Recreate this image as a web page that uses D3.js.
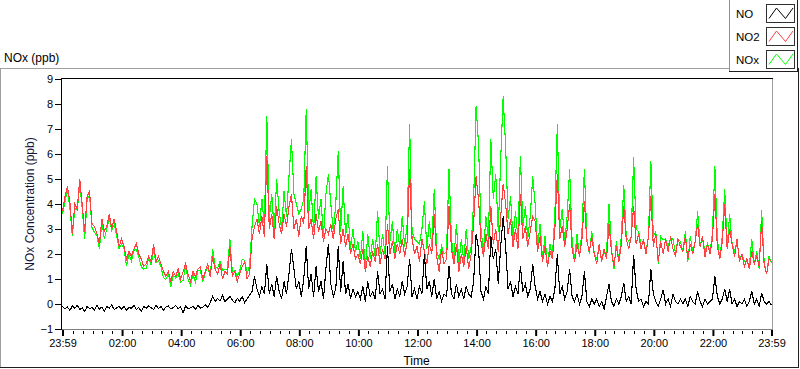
<!DOCTYPE html>
<html>
<head>
<meta charset="utf-8">
<script src="https://cdn.jsdelivr.net/npm/d3@7"></script>
<style>
  html, body { margin: 0; padding: 0; background: #fff; }
  svg { display: block; }
  text { font-family: "Liberation Sans", Arial, sans-serif; fill: #000; }
</style>
</head>
<body>
<svg id="chart" width="800" height="369"></svg>
<script>
// ---------------- DATA (5-minute samples, 23:59 -> 23:59) ----------------
const startTime = "23:59";
const stepMinutes = 5;
const seriesNames = ["NO", "NO2", "NOx"];
const yTicks = [-1, 0, 1, 2, 3, 4, 5, 6, 7, 8, 9];
const xTickLabels = ["23:59", "02:00", "04:00", "06:00", "08:00", "10:00", "12:00",
                     "14:00", "16:00", "18:00", "20:00", "22:00", "23:59"];

const no = [
  -0.10,-0.20,-0.12,-0.25,-0.08,-0.18,-0.05,-0.22,-0.15,-0.30,-0.10,-0.18,
  -0.14,-0.24,-0.06,-0.20,-0.12,-0.28,-0.10,-0.16,-0.04,-0.22,-0.15,-0.10,
  -0.20,-0.08,-0.26,-0.12,-0.18,-0.05,-0.22,-0.14,-0.30,-0.10,-0.17,-0.08,
  -0.15,-0.22,-0.05,-0.18,-0.10,-0.25,-0.12,-0.08,-0.20,-0.14,-0.06,-0.18,
  -0.12,-0.35,-0.08,-0.20,-0.15,-0.10,-0.22,-0.06,-0.16,-0.12,-0.04,-0.14,
  0.05,0.30,0.10,0.22,0.12,0.35,0.08,0.20,0.30,0.15,0.05,0.22,
  0.12,0.30,0.05,0.20,0.35,0.50,1.10,0.60,0.30,0.70,0.40,1.60,
  0.40,0.80,0.30,1.10,0.50,0.20,0.90,0.40,1.20,2.20,1.40,0.60,
  0.90,0.30,1.00,2.30,0.60,1.20,0.30,1.50,0.50,0.90,0.20,1.40,
  2.40,0.80,0.30,0.60,2.30,0.50,1.70,0.40,0.80,0.20,0.60,0.30,
  0.50,0.20,0.70,0.10,0.90,0.30,0.50,0.20,1.30,0.40,0.60,0.20,
  2.30,0.50,0.80,0.20,0.60,0.30,0.90,0.40,0.70,1.80,0.30,0.60,
  0.20,0.70,0.40,2.00,0.60,0.90,0.30,1.00,0.20,0.50,0.10,0.40,
  0.30,1.50,0.40,0.20,0.80,0.30,0.60,0.20,0.70,0.40,0.30,0.90,
  2.80,2.20,0.50,0.20,0.70,0.40,2.70,1.80,2.20,0.80,2.30,3.50,
  2.30,0.60,0.90,0.30,0.70,0.40,1.50,0.50,0.80,0.30,0.60,1.60,
  0.70,0.20,0.50,0.10,0.40,0.00,0.30,0.10,0.60,2.00,0.40,0.70,
  0.20,0.50,1.40,0.30,0.10,0.40,0.00,0.30,1.30,0.10,-0.10,0.20,
  0.00,0.20,-0.10,0.10,-0.20,0.30,0.80,0.10,-0.10,0.20,0.00,0.30,
  0.85,0.10,0.30,0.00,1.96,0.60,0.10,0.20,-0.10,0.10,0.00,1.40,
  0.40,0.10,-0.10,0.20,0.56,0.00,0.20,-0.10,0.40,0.10,0.00,0.20,
  0.00,0.20,-0.10,0.30,0.10,0.00,0.50,0.10,-0.10,0.20,0.00,0.10,
  0.20,1.10,0.30,0.00,0.20,0.60,0.10,0.60,0.00,0.20,-0.10,0.10,
  0.00,0.20,-0.10,0.10,0.50,0.00,0.20,-0.10,0.45,0.10,0.00,0.10,-0.05
];

const no2 = [
  3.7,4.3,4.7,4.1,2.8,4.0,3.8,5.0,4.0,2.9,4.3,4.5,
  3.2,3.1,2.8,2.4,3.4,2.9,3.1,3.6,3.0,3.4,2.9,2.3,
  2.6,2.3,1.8,2.1,1.9,2.2,2.4,2.0,1.8,1.5,1.6,1.9,
  1.7,2.4,1.7,1.9,1.6,1.3,1.1,1.3,0.9,1.3,1.1,1.4,
  1.0,1.3,1.6,1.2,0.9,1.3,1.1,1.4,1.5,1.0,1.3,1.6,
  1.1,1.9,1.4,1.2,1.6,1.0,1.3,1.2,2.3,1.1,1.3,0.9,
  1.2,1.5,1.7,1.0,1.2,2.6,3.1,3.4,2.8,3.5,2.7,5.9,
  3.0,3.6,2.6,3.9,3.2,2.8,3.6,3.1,3.9,4.4,3.0,3.4,
  2.7,3.5,3.2,5.5,3.0,3.4,2.6,3.6,2.9,3.3,2.5,3.0,
  2.8,3.2,2.6,3.4,3.8,2.4,3.0,2.3,2.8,2.0,2.4,1.8,
  2.0,1.6,2.2,1.3,1.9,1.5,2.1,1.7,2.4,1.6,2.2,1.8,
  3.2,2.0,2.5,1.8,2.4,2.0,2.6,1.9,2.5,5.4,2.6,2.0,
  2.3,1.7,2.6,2.1,1.6,2.4,2.0,3.6,1.9,1.3,2.2,1.6,
  1.8,3.9,2.2,1.6,2.4,1.3,2.0,1.5,2.3,1.4,2.0,3.2,
  5.1,4.2,2.5,1.9,2.8,2.2,3.9,2.4,3.0,2.1,3.5,4.8,
  4.0,2.8,3.4,2.3,3.0,2.2,4.4,2.6,3.1,2.3,2.9,3.5,
  3.3,2.1,2.7,1.7,2.3,1.5,2.1,1.8,3.0,5.2,2.6,3.1,
  2.3,3.0,4.0,2.2,1.7,2.4,1.9,2.6,4.1,2.5,2.1,2.7,
  2.0,1.6,2.4,1.7,2.2,1.8,3.2,2.1,1.5,2.3,1.7,2.4,
  3.9,2.6,2.2,2.7,3.9,2.4,2.8,2.2,2.6,2.0,2.7,4.3,
  2.3,2.8,1.7,2.5,2.0,2.6,2.1,2.7,2.2,1.9,2.6,2.3,
  2.1,2.7,1.8,2.4,2.0,2.5,3.2,2.3,2.7,1.9,2.4,2.0,
  2.6,4.4,2.3,1.8,2.5,4.0,2.2,3.0,2.4,1.9,2.6,1.7,
  2.0,1.5,1.8,1.4,2.1,1.6,1.9,1.5,3.3,1.6,1.2,1.8,1.7
];

const nox = [
  3.60,4.10,4.58,3.85,2.72,3.82,3.75,4.78,3.85,2.60,4.20,4.32,
  3.06,2.86,2.74,2.20,3.28,2.62,3.00,3.44,2.96,3.18,2.75,2.20,
  2.40,2.22,1.54,1.98,1.72,2.15,2.18,1.86,1.50,1.40,1.43,1.82,
  1.55,2.18,1.65,1.72,1.50,1.05,0.98,1.22,0.70,1.16,1.04,1.22,
  0.88,0.95,1.52,1.00,0.75,1.20,0.88,1.34,1.34,0.88,1.26,1.46,
  1.15,2.20,1.50,1.42,1.72,1.35,1.38,1.40,2.60,1.25,1.35,1.12,
  1.32,1.80,1.75,1.20,1.55,3.10,4.20,4.00,3.10,4.20,3.10,7.50,
  3.40,4.40,2.90,5.00,3.70,3.00,4.50,3.50,5.10,6.60,4.40,4.00,
  3.60,3.80,4.20,7.80,3.60,4.60,2.90,5.10,3.40,4.20,2.70,4.40,
  5.20,4.00,2.90,4.00,6.10,2.90,4.70,2.70,3.60,2.20,3.00,2.10,
  2.50,1.80,2.90,1.40,2.80,1.80,2.60,1.90,3.70,2.00,2.80,2.00,
  5.50,2.50,3.30,2.00,3.00,2.30,3.50,2.30,3.20,7.20,2.90,2.60,
  2.50,2.40,3.00,4.10,2.20,3.30,2.30,4.60,2.10,1.80,2.30,2.00,
  2.10,5.40,2.60,1.80,3.20,1.60,2.60,1.70,3.00,1.80,2.30,4.10,
  7.90,6.40,3.00,2.10,3.50,2.60,6.60,4.20,5.20,2.90,5.80,8.30,
  6.30,3.40,4.30,2.60,3.70,2.60,5.90,3.10,3.90,2.60,3.50,5.10,
  4.00,2.30,3.20,1.80,2.70,1.50,2.40,1.90,3.60,7.20,3.00,3.80,
  2.50,3.50,5.40,2.50,1.80,2.80,1.90,2.90,5.40,2.60,2.00,2.90,
  2.00,1.80,2.30,1.80,2.00,2.10,4.00,2.20,1.40,2.50,1.70,2.70,
  4.75,2.70,2.50,2.70,5.86,3.00,2.90,2.40,2.50,2.10,2.70,5.70,
  2.70,2.90,1.60,2.70,2.56,2.60,2.30,2.60,2.60,2.00,2.60,2.50,
  2.10,2.90,1.70,2.70,2.10,2.50,3.70,2.40,2.60,2.10,2.40,2.10,
  2.80,5.50,2.60,1.80,2.70,4.60,2.30,3.60,2.40,2.10,2.50,1.80,
  2.00,1.70,1.70,1.50,2.60,1.60,2.10,1.40,3.75,1.70,1.20,1.90,1.65
];

const seriesColors = ["#000000", "#ff4040", "#00ff00"];

// ---------------- CHART ----------------
const svg = d3.select("#chart");
const W = 800, H = 369;
const plot = { left: 61, top: 78, right: 772, bottom: 329 };

const [sh, sm] = startTime.split(":").map(Number);
const t0 = new Date(2024, 0, 1, sh, sm);
const t1 = d3.timeMinute.offset(t0, 24 * 60);
const timeAt = i => d3.timeMinute.offset(t0, i * stepMinutes);

const x = d3.scaleTime().domain([t0, t1]).range([62.5, 771.5]);
const y = d3.scaleLinear().domain([-1, 9]).range([329, 79]);

// outer frame
svg.append("rect").attr("x", 0).attr("y", 0).attr("width", W).attr("height", H).attr("fill", "#fff");
svg.append("line").attr("x1", 0).attr("x2", 730).attr("y1", 68.5).attr("y2", 68.5).attr("stroke", "#a0a0a0");
svg.append("line").attr("x1", 0.5).attr("x2", 0.5).attr("y1", 68.5).attr("y2", 368).attr("stroke", "#a0a0a0");
svg.append("line").attr("x1", 0).attr("x2", 799).attr("y1", 367.5).attr("y2", 367.5).attr("stroke", "#202020");
svg.append("line").attr("x1", 798.5).attr("x2", 798.5).attr("y1", 68).attr("y2", 368).attr("stroke", "#202020");

// top-left title
svg.append("text").attr("x", 4).attr("y", 62).attr("font-size", 12).text("NOx (ppb)");

// plot frame
svg.append("line").attr("x1", plot.right + 0.5).attr("x2", plot.right + 0.5)
   .attr("y1", plot.top).attr("y2", plot.bottom + 1).attr("stroke", "#a0a0a0");
svg.append("line").attr("x1", plot.left).attr("x2", plot.right + 1)
   .attr("y1", plot.bottom + 0.5).attr("y2", plot.bottom + 0.5).attr("stroke", "#808080");
svg.append("line").attr("x1", plot.left).attr("x2", plot.right + 1)
   .attr("y1", plot.top + 0.5).attr("y2", plot.top + 0.5).attr("stroke", "#000");
svg.append("line").attr("x1", plot.left + 0.5).attr("x2", plot.left + 0.5)
   .attr("y1", plot.top).attr("y2", plot.bottom + 1).attr("stroke", "#000");

// clip
svg.append("clipPath").attr("id", "clip").append("rect")
   .attr("x", plot.left + 1).attr("y", plot.top + 1)
   .attr("width", plot.right - plot.left - 1).attr("height", plot.bottom - plot.top - 1);

// series lines: NOx underneath, NO2 over it, NO on top
const line = d3.line().x((d, i) => x(timeAt(i))).y(d => y(d));
const g = svg.append("g").attr("clip-path", "url(#clip)");
const drawOrder = [
  { data: nox, color: seriesColors[2] },
  { data: no2, color: seriesColors[1] },
  { data: no,  color: seriesColors[0] }
];
drawOrder.forEach(s => {
  g.append("path").datum(s.data).attr("d", line)
   .attr("fill", "none").attr("stroke", s.color).attr("stroke-width", 1.1)
   .attr("shape-rendering", "crispEdges");
});

// y axis
const yAxis = d3.axisLeft(y).tickValues(yTicks).tickSize(6).tickPadding(2).tickFormat(d3.format("d"));
const gy = svg.append("g").attr("transform", `translate(${plot.left},0)`).call(yAxis);
gy.select(".domain").remove();
gy.selectAll(".tick line").attr("stroke", "#000");
gy.selectAll(".tick text").attr("font-size", 11).attr("fill", "#000")
  .style("font-family", '"Liberation Sans", Arial, sans-serif');

// x axis: major ticks with labels
const majorTimes = xTickLabels.map((lab, i) => {
  if (i === 0) return t0;
  if (i === xTickLabels.length - 1) return t1;
  const [h, m] = lab.split(":").map(Number);
  return new Date(2024, 0, 2, h, m);
});
const xAxis = d3.axisBottom(x).tickValues(majorTimes).tickSize(6).tickPadding(3)
  .tickFormat((d, i) => xTickLabels[i]);
const gx = svg.append("g").attr("transform", `translate(0,${plot.bottom + 1})`).call(xAxis);
gx.select(".domain").remove();
gx.selectAll(".tick line").attr("stroke", "#000").attr("stroke-width", 2);
gx.selectAll(".tick text").attr("font-size", 11).attr("fill", "#000")
  .style("font-family", '"Liberation Sans", Arial, sans-serif');

// minor ticks every 20 minutes
const minorTimes = d3.timeMinute.every(20).range(t0, t1)
  .filter(t => majorTimes.every(m => Math.abs(m - t) > 3 * 60000));
svg.append("g").selectAll("line").data(minorTimes).join("line")
  .attr("x1", d => Math.round(x(d)) + 0.5).attr("x2", d => Math.round(x(d)) + 0.5)
  .attr("y1", plot.bottom + 2).attr("y2", plot.bottom + 5)
  .attr("stroke", "#000");

// axis titles
svg.append("text").attr("x", (plot.left + plot.right) / 2).attr("y", 365)
   .attr("text-anchor", "middle").attr("font-size", 12).text("Time");
svg.append("text")
   .attr("transform", `translate(34,${(79 + 329) / 2}) rotate(-90)`)
   .attr("text-anchor", "middle").attr("font-size", 12)
   .style("fill", "#14143c")
   .text("NOx Concentration (ppb)");

// legend
const lg = svg.append("g");
lg.append("rect").attr("x", 729.5).attr("y", -1).attr("width", 68.5).attr("height", 72.5)
  .attr("fill", "#fff").attr("stroke", "none");
lg.append("line").attr("x1", 729.5).attr("x2", 729.5).attr("y1", 0).attr("y2", 72).attr("stroke", "#909090");
lg.append("line").attr("x1", 729).attr("x2", 798).attr("y1", 71.5).attr("y2", 71.5).attr("stroke", "#202020");
lg.append("line").attr("x1", 797.5).attr("x2", 797.5).attr("y1", 0).attr("y2", 72).attr("stroke", "#202020");
const legendTop = [4, 27, 50];
seriesNames.forEach((name, i) => {
  const top = legendTop[i];
  lg.append("text").attr("x", 736).attr("y", top + 13.5).attr("font-size", 11.5).text(name);
  lg.append("rect").attr("x", 766.5).attr("y", top + 0.5).attr("width", 28).attr("height", 18)
    .attr("fill", "#fff").attr("stroke", "#303030");
  const zz = [[769, top + 14.5], [776.5, top + 4], [785.5, top + 14.5], [793, top + 4]];
  lg.append("path").attr("d", d3.line()(zz)).attr("fill", "none")
    .attr("stroke", seriesColors[i]).attr("stroke-width", 1);
});
</script>
</body>
</html>
